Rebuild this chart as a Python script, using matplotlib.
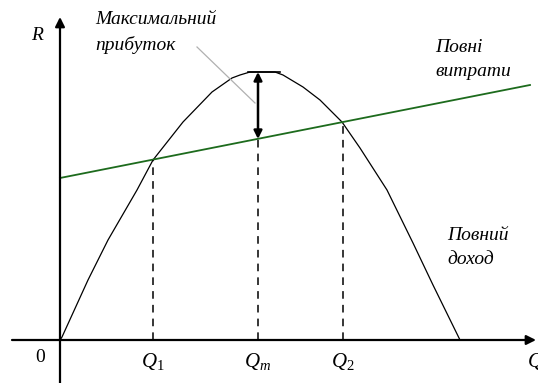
import matplotlib.pyplot as plt

plt.rcParams["mathtext.fontset"] = "custom"
plt.rcParams["mathtext.it"] = "Liberation Serif:italic"
plt.rcParams["mathtext.rm"] = "Liberation Serif"

# === Дані ===
q_rev = [0, 2, 28, 48, 77, 93, 123, 152, 172, 180, 190, 215, 223, 243, 260, 282, 300, 327, 353, 373, 400]
r_rev = [0, 3, 60, 100, 150, 180, 218, 248, 262, 265, 268, 268, 265, 253, 240, 218, 192, 150, 97, 55, 0]

q_cost = [0, 470]
r_cost = [162, 255]

q_marks = [93, 198, 283]
r_marks = [180, 201, 218]
q_labels = ["1", "m", "2"]

q_max = 198
r_top = 268
r_bottom = 201

serif = "Liberation Serif"

fig = plt.figure(figsize=(5.38, 3.83), dpi=100)
ax = fig.add_axes([0, 0, 1, 1])
ax.set_xlim(-60, 478)
ax.set_ylim(-43, 340)
ax.axis("off")

# осі
ax.annotate("", xy=(0, 323), xytext=(0, -45),
            arrowprops=dict(arrowstyle="-|>", lw=1.6, color="black", mutation_scale=14,
                            shrinkA=0, shrinkB=0))
ax.annotate("", xy=(476, 0), xytext=(-48, 0),
            arrowprops=dict(arrowstyle="-|>", lw=1.6, color="black", mutation_scale=14,
                            shrinkA=0, shrinkB=0))

# криві
ax.plot(q_rev, r_rev, color="black", lw=0.9)
ax.plot(q_cost, r_cost, color="#1d6b1d", lw=1.3)

# пунктири
for q, r in zip(q_marks, r_marks):
    ax.plot([q, q], [0, r], color="black", lw=1.1, ls=(0, (5, 4)))

# максимальний прибуток
ax.annotate("", xy=(q_max, r_top), xytext=(q_max, r_bottom),
            arrowprops=dict(arrowstyle="<|-|>", lw=1.8, color="black", mutation_scale=12,
                            shrinkA=0, shrinkB=0))
ax.plot([188, 220], [r_top, r_top], color="black", lw=1.2)
ax.plot([137, 195], [293, 237], color="#b0b0b0", lw=0.9)

txt = dict(family=serif, style="italic", fontsize=14, color="black")
ax.text(-23, 305, "R", ha="center", va="center", **txt)
ax.text(-20, -17, "0", ha="center", va="center", family=serif, fontsize=14)
ax.text(35, 320, "Максимальний", ha="left", va="center", **txt)
ax.text(35, 295, "прибуток", ha="left", va="center", **txt)
ax.text(375, 293, "Повні", ha="left", va="center", **txt)
ax.text(375, 268, "витрати", ha="left", va="center", **txt)
ax.text(387, 105, "Повний", ha="left", va="center", **txt)
ax.text(387, 80, "доход", ha="left", va="center", **txt)

for q, lab in zip(q_marks, q_labels):
    ax.text(q, -21, "$Q_{" + lab + "}$", ha="center", va="center", fontsize=15)
ax.text(467, -21, "$Q$", ha="left", va="center", fontsize=15)

fig.savefig("out.png", dpi=100)
